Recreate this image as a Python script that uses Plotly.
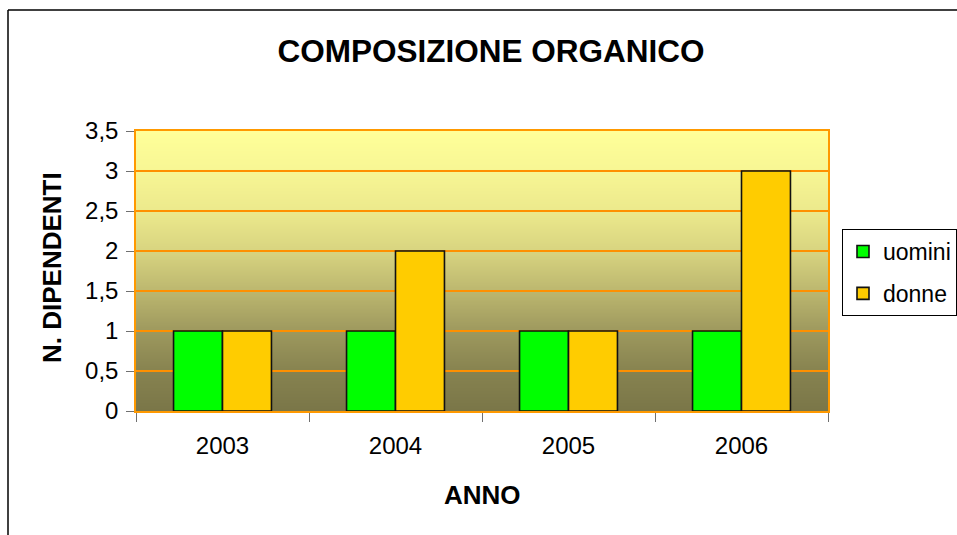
import base64, struct, zlib
import plotly.graph_objects as go

# ---- data ----
anni = ["2003", "2004", "2005", "2006"]
uomini = [1, 1, 1, 1]
donne = [1, 2, 1, 3]
y_ticks = [0, 0.5, 1, 1.5, 2, 2.5, 3, 3.5]

W, H = 957, 535
L, R, T, B = 136, 828, 131, 411   # plot area in pixels
pw, ph = R - L, B - T

def px(x):  # pixel -> paper x
    return (x - L) / pw

def py(y):  # pixel -> paper y
    return (B - y) / ph

# ---- gradient background image (style only) ----
stops = [(0.0, (255, 255, 153)), (1/7, (247, 246, 148)), (2/7, (236, 233, 140)),
         (3/7, (216, 212, 128)), (4/7, (188, 183, 111)), (5/7, (158, 153, 94)),
         (6/7, (135, 131, 80)), (1.0, (122, 118, 72))]

def col(t):
    for (a, ca), (b, cb) in zip(stops[:-1], stops[1:]):
        if a <= t <= b:
            f = (t - a) / (b - a)
            return tuple(int(round(ca[i] + (cb[i] - ca[i]) * f)) for i in range(3))
    return stops[-1][1]

def make_png(h, w=2):
    raw = b""
    for r in range(h):
        c = col(r / (h - 1))
        raw += b"\x00" + bytes(c) * w
    def chunk(tag, data):
        return struct.pack(">I", len(data)) + tag + data + struct.pack(">I", zlib.crc32(tag + data) & 0xffffffff)
    png = b"\x89PNG\r\n\x1a\n"
    png += chunk(b"IHDR", struct.pack(">IIBBBBB", w, h, 8, 2, 0, 0, 0))
    png += chunk(b"IDAT", zlib.compress(raw, 9))
    png += chunk(b"IEND", b"")
    return "data:image/png;base64," + base64.b64encode(png).decode()

FONT = "Liberation Sans, Arial, sans-serif"
ORANGE = "#FF9900"

fig = go.Figure()
fig.add_trace(go.Bar(name="uomini", x=anni, y=uomini, marker_color="#00FF00",
                     marker_line=dict(color="#111111", width=1.6), legendgroup="u"))
fig.add_trace(go.Bar(name="donne", x=anni, y=donne, marker_color="#FFCC00",
                     marker_line=dict(color="#111111", width=1.6), legendgroup="d"))

fig.update_layout(
    template="none",
    width=W, height=H,
    margin=dict(l=L, r=W - R, t=T, b=H - B, autoexpand=False),
    paper_bgcolor="white", plot_bgcolor="rgba(0,0,0,0)",
    separators=",.",
    barmode="group", bargap=0.434, bargroupgap=0,
    font=dict(family=FONT, size=24, color="black"),
    title=dict(text="<b>COMPOSIZIONE ORGANICO</b>", x=491 / W, y=1 - 51 / H,
               xanchor="center", yanchor="middle",
               font=dict(family=FONT, size=31.5, color="black")),
    xaxis=dict(type="category", showgrid=False, tickson="boundaries",
               ticks="outside", ticklen=9, tickcolor="#707070", tickwidth=1,
               showline=True, linecolor=ORANGE, linewidth=1.5, mirror=True,
               ticklabelstandoff=12, tickfont=dict(size=24)),
    yaxis=dict(range=[0, 3.5], tickvals=y_ticks, showgrid=True, gridcolor="#FF9000",
               gridwidth=1.5, zeroline=False, ticks="outside", ticklen=8,
               tickcolor="#707070", tickwidth=1,
               showline=True, linecolor=ORANGE, linewidth=1.5, mirror=True,
               ticklabelstandoff=3, tickfont=dict(size=24)),
    legend=dict(x=px(842), y=py(229), xanchor="left", yanchor="top",
                bgcolor="white", bordercolor="black", borderwidth=1,
                tracegroupgap=9, font=dict(size=23)),
    images=[dict(source=make_png(ph), xref="paper", yref="paper",
                 x=0, y=1, sizex=1, sizey=1, xanchor="left", yanchor="top",
                 sizing="stretch", layer="below")],
    annotations=[
        dict(text="<b>N. DIPENDENTI</b>", xref="paper", yref="paper",
             x=px(52), y=py(268), textangle=-90, showarrow=False,
             xanchor="center", yanchor="middle", font=dict(size=26)),
        dict(text="<b>ANNO</b>", xref="paper", yref="paper",
             x=px(483), y=py(495), showarrow=False,
             xanchor="center", yanchor="middle", font=dict(size=26)),
    ],
    shapes=[
        dict(type="line", xref="paper", yref="paper", x0=px(8), x1=px(W + 50),
             y0=py(10), y1=py(10), line=dict(color="#404040", width=2)),
        dict(type="line", xref="paper", yref="paper", x0=px(8), x1=px(8),
             y0=py(10), y1=py(H + 50), line=dict(color="black", width=1.5)),
    ],
)

fig.write_html("out.html", config={"displayModeBar": False},
               post_script="document.body.style.margin='0';document.body.style.overflow='hidden';")
